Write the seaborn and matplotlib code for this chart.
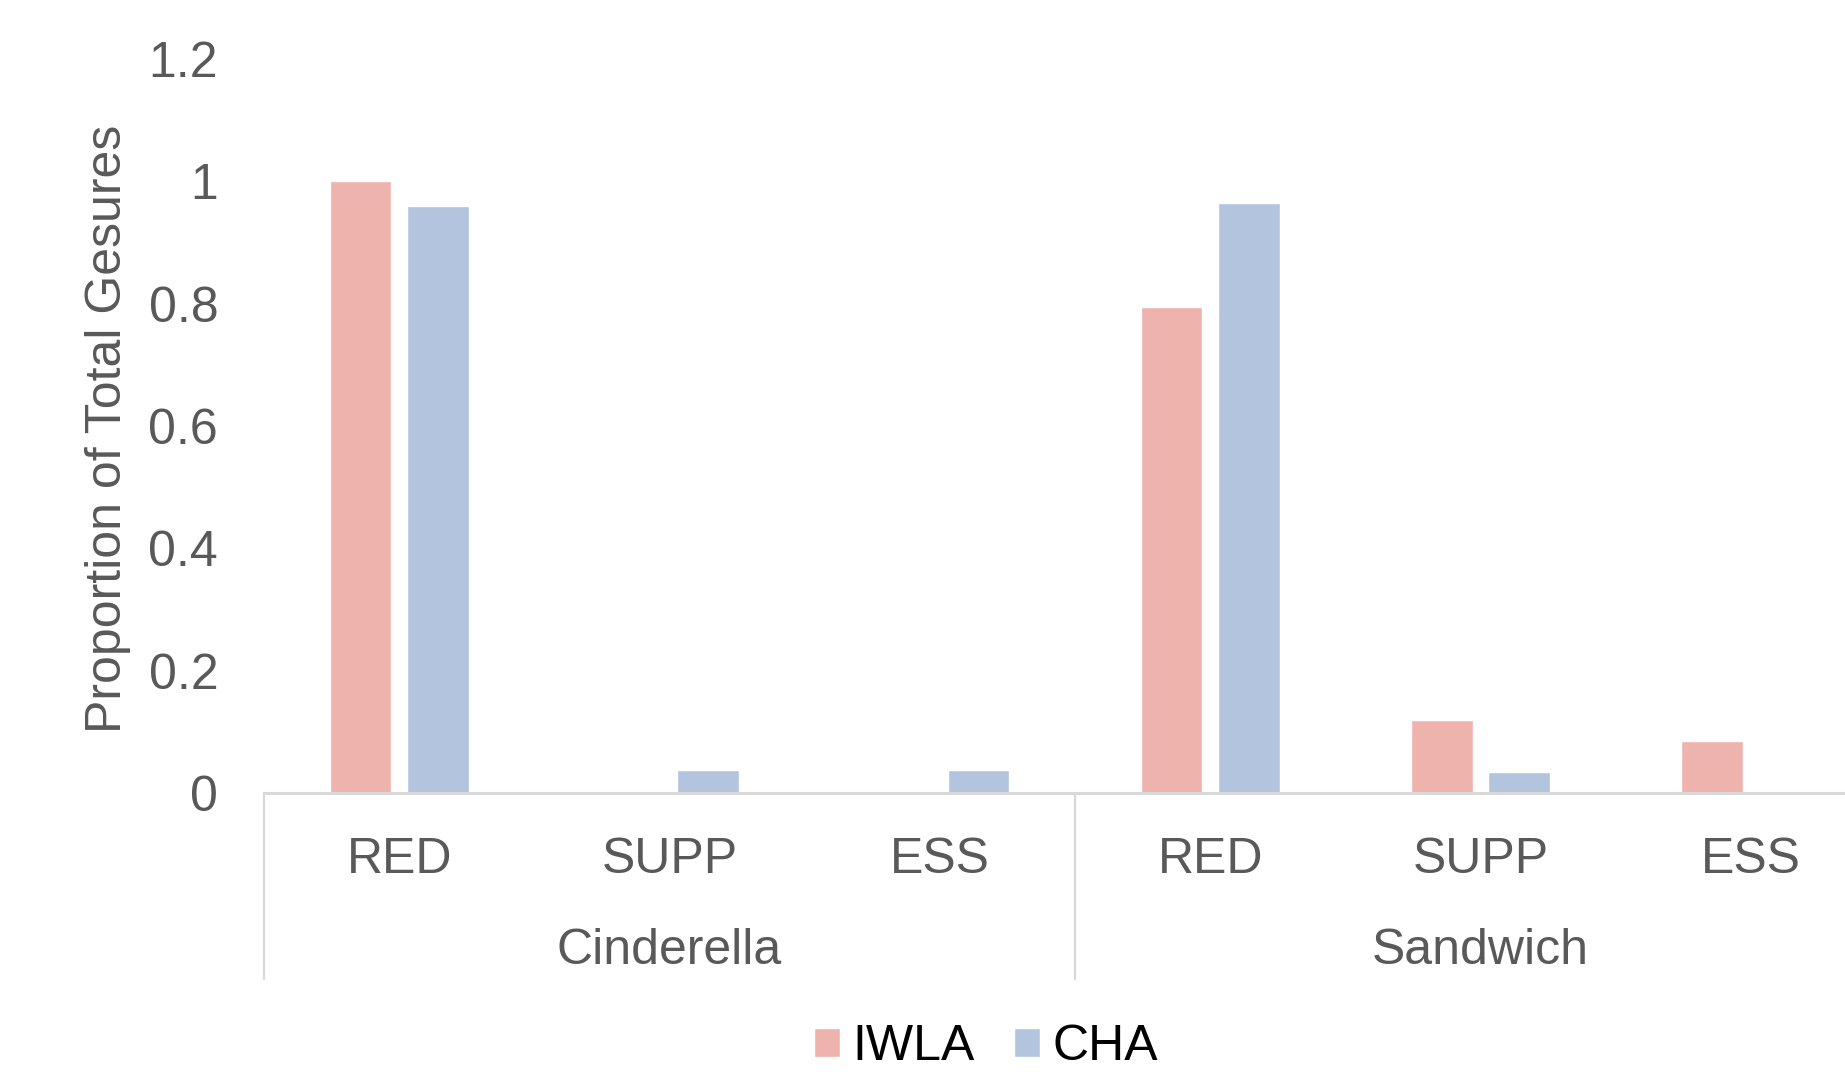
import numpy as np
import pandas as pd
import matplotlib
matplotlib.use("Agg")
import matplotlib.pyplot as plt
import seaborn as sns

# data
stories = ["Cinderella", "Sandwich"]
categories = ["RED", "SUPP", "ESS"]
groups = ["IWLA", "CHA"]
iwla = [1.0, 0.0, 0.0, 0.795, 0.12, 0.085]
cha = [0.96, 0.037, 0.037, 0.965, 0.035, 0.0]
y_ticks = [0, 0.2, 0.4, 0.6, 0.8, 1, 1.2]
y_tick_labels = ["0", "0.2", "0.4", "0.6", "0.8", "1", "1.2"]

pink = "#EFB3AE"
blue = "#B3C4DE"
grey_text = "#595959"
line_grey = "#D9D9D9"

slots = [s + "|" + c for s in stories for c in categories]
rows = []
for i, slot in enumerate(slots):
    rows.append({"slot": slot, "group": "IWLA", "value": iwla[i]})
    rows.append({"slot": slot, "group": "CHA", "value": cha[i]})
df = pd.DataFrame(rows)

sns.set_style("white")
plt.rcParams["font.family"] = ["Liberation Sans", "DejaVu Sans"]

W, H = 1845, 1075
fig = plt.figure(figsize=(W / 100, H / 100), dpi=100)
# axes runs past the right edge, as in the reference (cropped)
ax = fig.add_axes([264 / W, (H - 793) / H, (1886 - 264) / W, (793 - 59) / H])

sns.barplot(data=df, x="slot", y="value", hue="group", order=slots,
            hue_order=groups, palette=[pink, blue], saturation=1,
            width=0.57, gap=0.2, errorbar=None, ax=ax)

ax.set_xlim(-0.5, len(slots) - 0.5)
ax.set_ylim(0, 1.2)
ax.set_yticks(y_ticks)
ax.set_yticklabels(y_tick_labels)
ax.tick_params(axis="y", length=0, pad=33, labelsize=36, labelcolor=grey_text)
ax.set_xticks(range(len(slots)))
ax.set_xticklabels(categories * len(stories))
ax.tick_params(axis="x", length=0, pad=32, labelsize=36, labelcolor=grey_text)
ax.set_xlabel("")
ax.set_ylabel("")

for side in ["left", "right", "top"]:
    ax.spines[side].set_visible(False)
ax.spines["bottom"].set_color(line_grey)
ax.spines["bottom"].set_linewidth(2.2)

# story group labels and dividers under the axis
tr = ax.get_xaxis_transform()
for k, story in enumerate(stories):
    mid = k * len(categories) + (len(categories) - 1) / 2
    ax.text(mid, -0.215, story, transform=tr, ha="center", va="center",
            fontsize=36, color=grey_text)
for k in range(len(stories)):
    x0 = k * len(categories) - 0.5
    ax.plot([x0, x0], [0, -0.253], transform=tr, color=line_grey,
            lw=1.6, clip_on=False)

fig.text(108 / W, 1 - 429 / H, "Proportion of Total Gesures", rotation=90,
         ha="center", va="center", fontsize=36, color=grey_text)

handles, labels = ax.get_legend_handles_labels()
ax.legend(handles, labels, loc="center", bbox_to_anchor=(986 / W, 1 - 1047 / H),
          bbox_transform=fig.transFigure, ncol=2, frameon=False, fontsize=36,
          handlelength=0.52, handleheight=0.52, handletextpad=0.24,
          columnspacing=0.8, labelcolor="black")

fig.savefig("out.png", dpi=100)
